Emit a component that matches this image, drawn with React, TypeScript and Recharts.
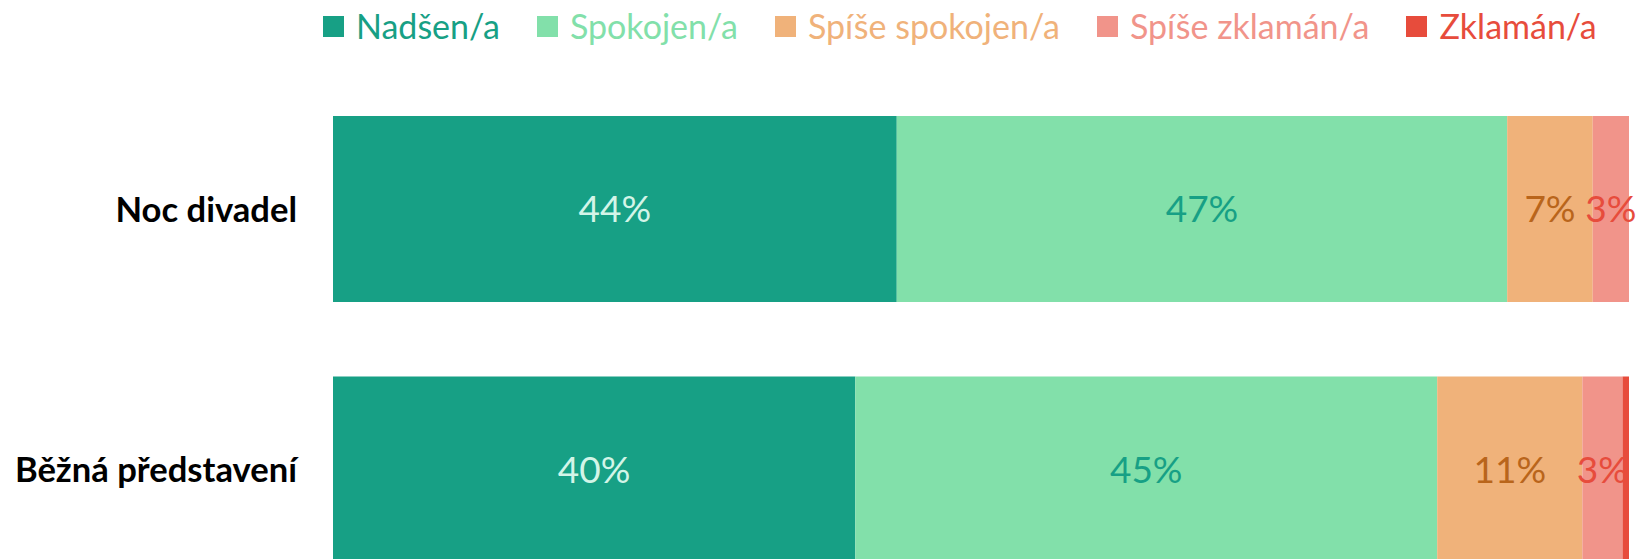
import { BarChart, Bar, XAxis, YAxis, Legend, LabelList } from "recharts";

// kategorie (osa Y)
const categories = ["Noc divadel", "Běžná představení"];

// podíly odpovědí v %
const nadsen = [43.5, 40.3];
const spokojen = [47.1, 44.9];
const spiseSpokojen = [6.6, 11.2];
const spiseZklaman = [2.8, 3.1];
const zklaman = [0, 0.5];

const seriesNames = ["Nadšen/a", "Spokojen/a", "Spíše spokojen/a", "Spíše zklamán/a", "Zklamán/a"];
const seriesValues = [nadsen, spokojen, spiseSpokojen, spiseZklaman, zklaman];

const barColors = ["#17a085", "#82e0aa", "#f0b27a", "#f1948a", "#e74c3c"];
const labelColors = ["#d3f5e8", "#17a085", "#b9651b", "#e74c3c", "#e74c3c"];

const FONT = "Lato, 'Open Sans', sans-serif";

const data = categories.map((name, i) => {
  const row: Record<string, string | number> = { name };
  seriesNames.forEach((s, j) => {
    row[s] = seriesValues[j][i];
  });
  return row;
});

// popisky jen pro hodnoty >= 1 %
const pct = (v: any) => (Number(v) >= 1 ? `${Math.round(Number(v))}%` : "");

const LegendContent = (props: any) => {
  const payload = props.payload || [];
  return (
    <div
      style={{
        display: "flex",
        alignItems: "center",
        paddingLeft: 323,
        fontFamily: FONT,
        fontSize: 34,
        lineHeight: "34px",
      }}
    >
      {payload.map((p: any) => (
        <div
          key={p.value}
          style={{ display: "flex", alignItems: "center", marginRight: 37, color: p.color }}
        >
          <span
            style={{ width: 21, height: 21, background: p.color, marginRight: 12, display: "inline-block" }}
          />
          <span>{p.value}</span>
        </div>
      ))}
    </div>
  );
};

export default function App() {
  return (
    <div
      style={{
        position: "fixed",
        left: 0,
        top: 0,
        width: 1643,
        height: 559,
        overflow: "hidden",
        background: "#fff",
      }}
    >
      <BarChart
        width={1643}
        height={620}
        data={data}
        layout="vertical"
        margin={{ top: 79, right: 14, bottom: 20, left: 0 }}
      >
        <XAxis type="number" domain={[0, 100]} hide />
        <YAxis
          type="category"
          dataKey="name"
          width={333}
          axisLine={false}
          tickLine={false}
          tickSize={0}
          tickMargin={36}
          tick={{ fill: "#000", fontSize: 34.6, fontWeight: 700, fontFamily: FONT }}
        />
        <Legend
          layout="horizontal"
          verticalAlign="middle"
          content={<LegendContent />}
          wrapperStyle={{ top: 9, left: 0, width: 1643 }}
        />
        {seriesNames.map((s, j) => (
          <Bar
            key={s}
            dataKey={s}
            name={s}
            stackId="a"
            fill={barColors[j]}
            barSize={186}
            isAnimationActive={false}
          >
            <LabelList
              dataKey={s}
              position="center"
              formatter={pct}
              fill={labelColors[j]}
              fontSize={37}
              fontFamily={FONT}
            />
          </Bar>
        ))}
      </BarChart>
    </div>
  );
}
